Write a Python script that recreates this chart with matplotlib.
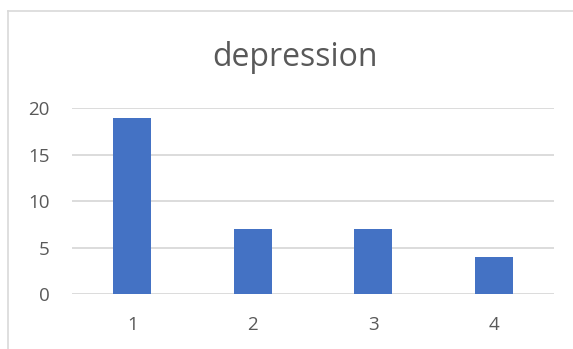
import matplotlib.pyplot as plt
from matplotlib.lines import Line2D

categories = ['1', '2', '3', '4']
values = [19, 7, 7, 4]
yticks = [0, 5, 10, 15, 20]

plt.rcParams['font.family'] = ['Open Sans', 'DejaVu Sans']
text_col = '#595959'
grid_col = '#d9d9d9'

fig = plt.figure(figsize=(5.73, 3.49), dpi=100)
ax = fig.add_axes([72 / 573, 1 - 294 / 349, (554 - 72) / 573, (294 - 108.5) / 349])

x = range(len(categories))
ax.bar(x, values, width=0.315, color='#4472c4', zorder=3)
ax.set_xlim(-0.5, len(categories) - 0.5)
ax.set_ylim(0, 20)
ax.set_yticks(yticks)
ax.set_xticks(list(x))
ax.set_xticklabels(categories)
ax.grid(axis='y', color=grid_col, linewidth=1.3, zorder=0)
for s in ax.spines.values():
    s.set_visible(False)
ax.tick_params(length=0, labelsize=13.5, colors=text_col)
ax.tick_params(axis='y', pad=16)
ax.tick_params(axis='x', pad=16)

fig.text(295 / 573, 1 - 57 / 349, 'depression', ha='center', va='center',
         fontsize=23, color=text_col)

# chart border (Excel style)
fig.add_artist(Line2D([7.5 / 573, 7.5 / 573], [0, 1 - 10.5 / 349], transform=fig.transFigure,
                      color=grid_col, linewidth=1.2))
fig.add_artist(Line2D([7.5 / 573, 1], [1 - 10.5 / 349, 1 - 10.5 / 349], transform=fig.transFigure,
                      color=grid_col, linewidth=1.2))

fig.savefig('out.png', dpi=100)
plt.close()
